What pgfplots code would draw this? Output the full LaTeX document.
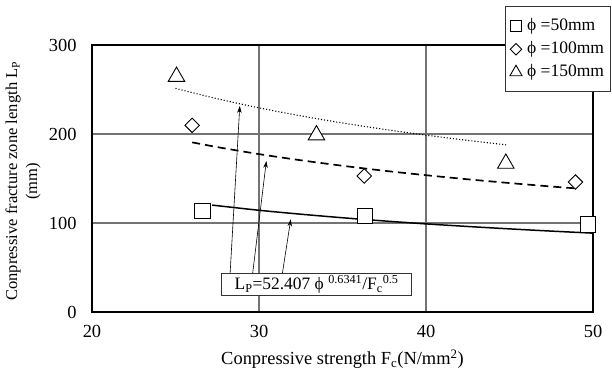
\documentclass[border=0pt]{standalone}
\usepackage{fontspec}
\setmainfont{Liberation Serif}
\usepackage{pgfplots}
\pgfplotsset{compat=1.18}
\usetikzlibrary{arrows.meta}
\newcommand{\ph}{\char"03D5}
\begin{document}
\begin{tikzpicture}
\useasboundingbox (-92bp,-60bp) rectangle (520bp,312bp);
\begin{axis}[
  scale only axis, width=501bp, height=267bp,
  xmin=20, xmax=50, ymin=0, ymax=300,
  xtick={20,30,40,50}, ytick={0,100,200,300},
  grid=major, major grid style={draw=gray!90!black, line width=1.1pt},
  axis line style={line width=2.2pt},
  tick style={draw=none},
  /pgf/number format/assume math mode=true,
  ticklabel style={font=\fontsize{18.5}{21}\selectfont},
  xticklabel style={yshift=-10bp},
  yticklabel style={xshift=-12bp},
  xlabel={Conpressive strength F\textsubscript{c}(N/mm\textsuperscript{2})},
  xlabel style={font=\fontsize{18.5}{21}\selectfont, at={(axis description cs:0.5,-0.178)}, anchor=center},
  ylabel={Conpressive fracture zone length L\textsubscript{P}\\(mm)},
  ylabel style={font=\fontsize{16.6}{20}\selectfont, at={(axis description cs:-0.1377,0.49)}, anchor=center, align=center},
  clip=false,
  legend style={at={(axis description cs:1.035,1.145)}, anchor=north east,
    draw=black!80, line width=0.9pt, fill=white, font=\fontsize{17.6}{20}\selectfont,
    inner xsep=3bp, inner ysep=10bp, row sep=4bp,
    nodes={inner xsep=3bp, inner ysep=1bp, text height=13bp, text depth=4bp}},
  legend cell align=left,
  legend image code/.code={\path[draw=none,fill=none] (0bp,0bp) -- (16bp,0bp); \draw[#1] plot coordinates {(8bp,0bp)};},
]
% fitted curves
\addplot[forget plot, black, line width=1.5pt, smooth] coordinates {
(27.2,120.1) (30,114.3) (32.5,109.9) (35,105.9) (37.5,102.3) (40,99.0) (42.5,96.1) (45,93.4) (47.5,90.9) (50,88.6)};
\addplot[forget plot, black, line width=1.7pt, dash pattern=on 8bp off 5bp, smooth] coordinates {
(26,190.6) (27.5,185.3) (30,177.4) (32.5,170.5) (35,164.3) (37.5,158.7) (40,153.7) (42.5,149.1) (45,144.9) (47.5,141.0) (48.9,139.0)};
\addplot[forget plot, black, line width=1.1pt, dash pattern=on 1.1bp off 2bp, smooth] coordinates {
(25,251.3) (27.5,239.6) (30,229.4) (32.5,220.4) (35,212.4) (37.5,205.2) (40,198.7) (42.5,192.8) (44.8,187.8)};
% arrows and equation box
\draw[line width=0.6pt, -{Stealth[length=7bp,width=4.5bp]}] (axis cs:28.27,43.4) -- (axis cs:28.85,231.5);
\draw[line width=0.6pt, -{Stealth[length=7bp,width=4.5bp]}] (axis cs:29.62,43.4) -- (axis cs:30.44,169.7);
\draw[line width=0.6pt, -{Stealth[length=7bp,width=4.5bp]}] (axis cs:31.4,43.4) -- (axis cs:31.9,104.1);
\node[draw=black!80, line width=0.9pt, fill=white, inner sep=1.5bp, minimum width=190bp, minimum height=21bp,
  font=\fontsize{17.5}{20}\selectfont] at (axis cs:33.45,31)
  {L\textsubscript{P}=52.407 \ph\ \textsuperscript{0.6341}/F\textsubscript{c}\textsuperscript{0.5}};
% data
\addplot[only marks, mark=square*, mark size=7.8bp, mark options={draw=black, fill=white, line width=0.9pt},
  legend image post style={mark size=5.5bp}]
  coordinates {(26.6,113.5) (36.35,107.9) (49.7,98.5)};
\addlegendentry{\ph\ =50mm}
\addplot[only marks, mark=square*, mark size=5.1bp, mark options={rotate=45, draw=black, fill=white, line width=0.9pt},
  legend image post style={mark size=4.1bp}]
  coordinates {(26.0,209.7) (36.3,152.8) (48.95,146.0)};
\addlegendentry{\ph\ =100mm}
\addplot[only marks, mark=triangle*, mark size=9.5bp, mark options={draw=black, fill=white, line width=0.9pt},
  legend image post style={mark size=7bp}]
  coordinates {(25.06,264.5) (33.44,198.8) (44.78,166.9)};
\addlegendentry{\ph\ =150mm}
\end{axis}
\end{tikzpicture}
\end{document}
